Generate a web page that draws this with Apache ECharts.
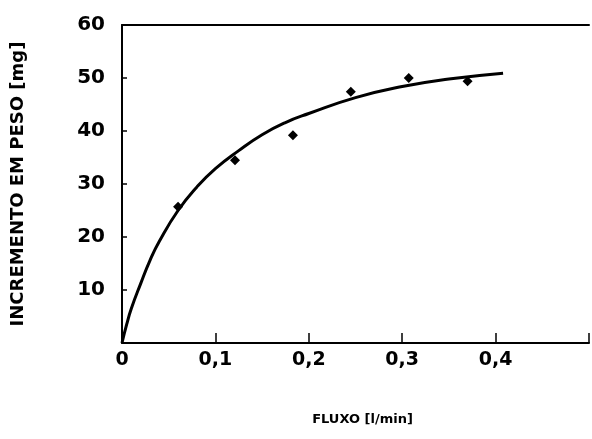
<!DOCTYPE html>
<html>
<head>
    <meta charset="utf-8">
    <title>Fluxo x Incremento em peso</title>
    <script src="https://cdn.jsdelivr.net/npm/echarts@6/dist/echarts.min.js"></script>
    <style>
        html, body { margin: 0; padding: 0; background: #fff; }
        #chart { width: 592px; height: 439px; }
    </style>
</head>
<body>
<div id="chart"></div>
<script>
// pontos medidos (losangos)
var fluxoPts = [0.060, 0.121, 0.183, 0.245, 0.307, 0.370];
var pesoPts  = [25.7, 34.5, 39.2, 47.4, 50.0, 49.4];

// curva ajustada, lida ponto a ponto no grafico
var curvaX = [0, 0.005, 0.01, 0.02, 0.03, 0.04, 0.06, 0.08, 0.10, 0.125, 0.15, 0.175, 0.20, 0.25, 0.30, 0.35, 0.408];
var curvaY = [0, 3.5, 6.5, 11.2, 15.6, 19.2, 25.0, 29.4, 32.9, 36.3, 39.3, 41.6, 43.3, 46.3, 48.4, 49.8, 50.9];

var yTicks = [10, 20, 30, 40, 50, 60];
var xTicks = [0, 0.1, 0.2, 0.3, 0.4];

var fonte = '"DejaVu Sans", sans-serif';

var chart = echarts.init(document.getElementById('chart'));

var pontos = [];
for (var i = 0; i < fluxoPts.length; i++) {
    pontos.push([fluxoPts[i], pesoPts[i]]);
}
var curva = [];
for (var j = 0; j < curvaX.length; j++) {
    curva.push([curvaX[j], curvaY[j]]);
}

var option = {
    backgroundColor: '#ffffff',
    animation: false,
    grid: {
        left: 122,
        top: 25,
        width: 506,   // passa da borda direita, como no original
        height: 318
    },
    xAxis: [
        {
            type: 'value',
            min: 0,
            max: 0.5,
            interval: 0.1,
            name: 'FLUXO [l/min]',
            nameLocation: 'middle',
            nameGap: 70,
            nameTextStyle: {
                color: '#000',
                fontFamily: fonte,
                fontWeight: 'bold',
                fontSize: 13,
                padding: [0, 0, 0, 14]
            },
            axisLine: { show: true, lineStyle: { color: '#000', width: 2 } },
            axisTick: { show: true, inside: true, length: 10, lineStyle: { color: '#000', width: 1.5 } },
            splitLine: { show: false },
            axisLabel: {
                color: '#000',
                fontFamily: fonte,
                fontWeight: 'bold',
                fontSize: 19,
                margin: 8,
                formatter: function (v) {
                    if (xTicks.indexOf(Math.round(v * 10) / 10) < 0) return '';
                    return v === 0 ? '0' : String(v).replace('.', ',');
                }
            }
        },
        {
            type: 'value',
            position: 'top',
            min: 0,
            max: 0.5,
            interval: 0.1,
            axisLine: { show: true, onZero: false, lineStyle: { color: '#000', width: 2 } },
            axisTick: { show: false },
            axisLabel: { show: false },
            splitLine: { show: false }
        }
    ],
    yAxis: {
        type: 'value',
        min: 0,
        max: 60,
        interval: 10,
        name: 'INCREMENTO EM PESO [mg]',
        nameLocation: 'middle',
        nameGap: 95,
        nameTextStyle: {
            color: '#000',
            fontFamily: fonte,
            fontWeight: 'bold',
            fontSize: 18
        },
        axisLine: { show: true, lineStyle: { color: '#000', width: 2 } },
        axisTick: { show: true, inside: true, length: 5, lineStyle: { color: '#000', width: 1.5 } },
        splitLine: { show: false },
        axisLabel: {
            color: '#000',
            fontFamily: fonte,
            fontWeight: 'bold',
            fontSize: 20,
            margin: 17,
            formatter: function (v) {
                return yTicks.indexOf(v) < 0 ? '' : String(v);
            }
        }
    },
    series: [
        {
            name: 'curva',
            type: 'line',
            data: curva,
            smooth: true,
            showSymbol: false,
            lineStyle: { color: '#000', width: 3 }
        },
        {
            name: 'medidas',
            type: 'scatter',
            data: pontos,
            symbol: 'diamond',
            symbolSize: 10,
            itemStyle: { color: '#000', opacity: 1 }
        }
    ]
};

chart.setOption(option);
</script>
</body>
</html>
